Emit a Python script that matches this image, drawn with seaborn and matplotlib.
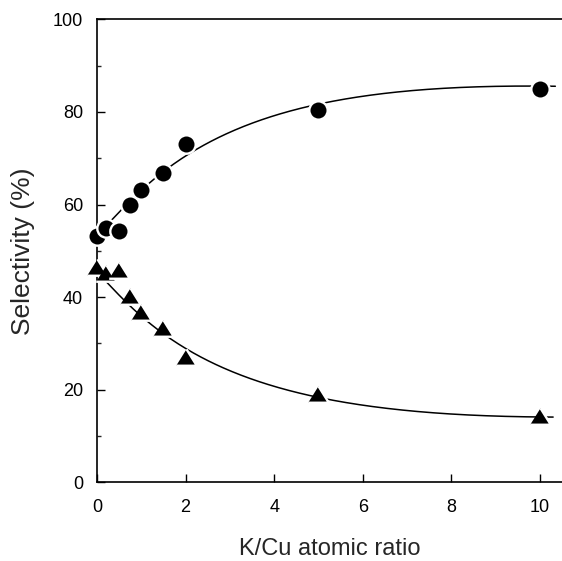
import numpy as np
import pandas as pd
import matplotlib
matplotlib.use("Agg")
import matplotlib.pyplot as plt
import seaborn as sns

# pontos medidos
ratio = [0, 0.2, 0.5, 0.75, 1.0, 1.5, 2.0, 5.0, 10.0]
sel_circle = [53.1, 54.9, 54.3, 59.8, 63.1, 66.7, 73.0, 80.5, 85.0]
sel_triangle = [46.6, 45.2, 45.9, 40.2, 36.9, 33.3, 27.0, 19.0, 14.4]

# curvas de tendencia
upper_x = [0.29, 0.63, 1.12, 1.35, 2.21, 3.08, 4.13, 5.33, 7.52, 9.7, 10.35]
upper_y = [56.6, 59.2, 63.9, 65.7, 72.4, 76.4, 79.3, 81.9, 84.8, 85.7, 85.6]
lower_x = [0.22, 0.89, 1.57, 2.17, 2.93, 4.77, 5.26, 7.59, 9.85, 10.3]
lower_y = [43.1, 37.2, 31.5, 27.9, 24.3, 18.9, 17.6, 15.6, 14.1, 13.9]

x_ticks = [0, 2, 4, 6, 8, 10]
y_ticks = [0, 20, 40, 60, 80, 100]

sns.set_theme(style="ticks")
plt.rcParams["font.family"] = ["Liberation Sans", "DejaVu Sans"]


def smooth(xs, ys, deg=3):
    u = np.log1p(np.array(xs))
    coef = np.polyfit(u, ys, deg)
    xx = np.linspace(xs[0], xs[-1], 300)
    return pd.DataFrame({"x": xx, "y": np.polyval(coef, np.log1p(xx))})


df_pts = pd.DataFrame({"ratio": ratio, "circle": sel_circle, "triangle": sel_triangle})
up = smooth(upper_x, upper_y)
lo = smooth(lower_x, lower_y)

fig = plt.figure(figsize=(5.62, 5.61), dpi=100)
ax = fig.add_axes([0.1726, 0.140, 0.8274, 0.8257])

sns.lineplot(data=up, x="x", y="y", color="black", lw=1.1, ax=ax, zorder=2, estimator=None, sort=False)
sns.lineplot(data=lo, x="x", y="y", color="black", lw=1.1, ax=ax, zorder=2, estimator=None, sort=False)

sns.scatterplot(data=df_pts, x="ratio", y="circle", marker="o", s=175, color="black",
                edgecolor="white", linewidth=1.7, ax=ax, zorder=3, clip_on=False)
tri = [(-1, -0.8), (1, -0.8), (0, 0.8)]
sns.scatterplot(data=df_pts, x="ratio", y="triangle", marker=tri, s=220, color="black",
                edgecolor="white", linewidth=1.7, ax=ax, zorder=3, clip_on=False)

ax.set_xlim(0, 10.5)
ax.set_ylim(0, 100)
ax.set_xticks(x_ticks)
ax.set_yticks(y_ticks)
ax.set_yticks(np.arange(10, 100, 20), minor=True)
ax.tick_params(axis="both", which="major", direction="in", length=6, width=1,
               labelsize=13, colors="black", pad=10)
ax.tick_params(axis="y", which="minor", direction="in", length=3, width=1)
ax.tick_params(axis="x", pad=12)

for side in ["left", "bottom", "top"]:
    ax.spines[side].set_linewidth(1.2)
    ax.spines[side].set_color("black")
ax.spines["right"].set_visible(False)

ax.set_xlabel("K/Cu atomic ratio", fontsize=17, labelpad=16)
ax.set_ylabel("Selectivity (%)", fontsize=19, labelpad=13)

fig.savefig("out.png", dpi=100, facecolor="white")
